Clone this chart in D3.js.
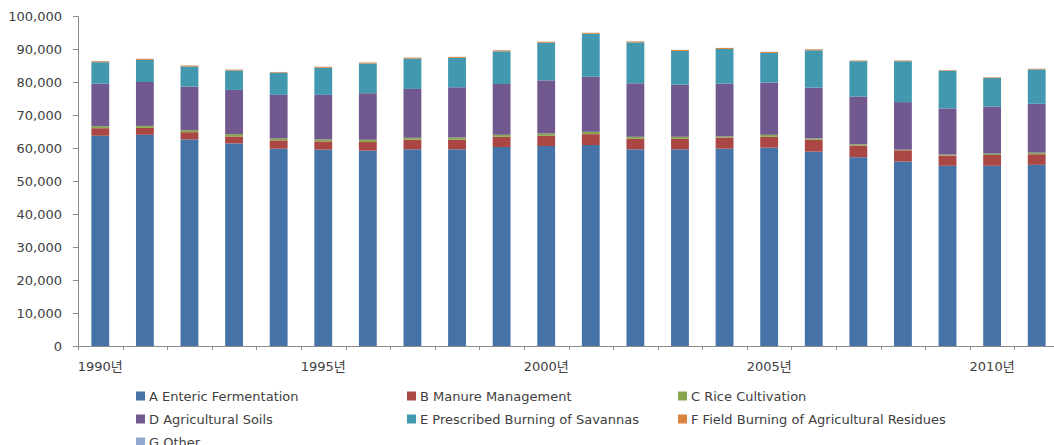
<!DOCTYPE html>
<html>
<head>
<meta charset="utf-8">
<script src="https://cdn.jsdelivr.net/npm/d3@7"></script>
<style>
  body { margin: 0; background: #fff; }
  text { font-family: "DejaVu Sans", "Noto Sans CJK KR", sans-serif; fill: #404040; }
</style>
</head>
<body>
<div id="chart"></div>
<script>
// years on the x axis
var years = d3.range(1990, 2012);
var yearLabels = ["1990년", "1995년", "2000년", "2005년", "2010년"];
var yTicks = [0, 10000, 20000, 30000, 40000, 50000, 60000, 70000, 80000, 90000, 100000];

// series values (Gg)
var enteric   = [63700, 64000, 62600, 61400, 59800, 59500, 59200, 59600, 59600, 60300, 60600, 60900, 59600, 59600, 59800, 60100, 58900, 57200, 55900, 54600, 54600, 54900];
var manure    = [2300, 2100, 2200, 2100, 2500, 2500, 2600, 2900, 2900, 3100, 3100, 3300, 3200, 3200, 3300, 3300, 3600, 3500, 3400, 3100, 3300, 3200];
var rice      = [600, 600, 600, 700, 600, 600, 700, 600, 700, 600, 700, 700, 600, 600, 400, 600, 400, 400, 200, 300, 400, 500];
var soils     = [12900, 13300, 13200, 13400, 13200, 13500, 14100, 14800, 15200, 15400, 16100, 16700, 16200, 15800, 16000, 15800, 15400, 14500, 14400, 14000, 14200, 14800];
var savannas  = [6500, 6700, 6100, 5900, 6700, 8200, 9000, 9200, 8900, 9900, 11400, 13000, 12400, 10200, 10500, 9000, 11300, 10700, 12400, 11400, 8700, 10400];
var residues  = [300, 300, 300, 250, 200, 300, 300, 300, 300, 300, 300, 300, 300, 300, 300, 300, 300, 200, 200, 200, 200, 200];
var other     = [40, 40, 40, 40, 40, 40, 40, 40, 40, 40, 40, 40, 40, 40, 40, 40, 40, 40, 40, 40, 40, 40];

var seriesNames = ["A Enteric Fermentation", "B Manure Management", "C Rice Cultivation",
                   "D Agricultural Soils", "E Prescribed Burning of Savannas",
                   "F Field Burning of Agricultural Residues", "G Other"];
var seriesValues = [enteric, manure, rice, soils, savannas, residues, other];
var colors = ["#4572A7", "#AA4643", "#89A54E", "#71588F", "#4198AF", "#DB843D", "#93A9CF"];

var width = 1054, height = 445;
var plotLeft = 78, plotRight = 1059, plotTop = 16, plotBottom = 346;

var svg = d3.select("#chart").append("svg")
    .attr("width", width)
    .attr("height", height);

// build rows for the stack
var rows = years.map(function(y, i) {
    var r = { year: y };
    seriesNames.forEach(function(n, k) { r[n] = seriesValues[k][i]; });
    return r;
});
var stacked = d3.stack().keys(seriesNames)(rows);

var x = d3.scaleBand()
    .domain(years)
    .range([plotLeft, plotRight])
    .paddingInner(0.6)
    .paddingOuter(0.3);

var y = d3.scaleLinear()
    .domain([0, 100000])
    .range([plotBottom, plotTop]);

// bars
svg.append("g").selectAll("g")
    .data(stacked)
    .enter().append("g")
    .attr("fill", function(d, i) { return colors[i]; })
    .selectAll("rect")
    .data(function(d) { return d; })
    .enter().append("rect")
    .attr("x", function(d) { return x(d.data.year); })
    .attr("y", function(d) { return y(d[1]); })
    .attr("width", x.bandwidth())
    .attr("height", function(d) { return y(d[0]) - y(d[1]); });

// y axis
var yAxis = svg.append("g")
    .attr("transform", "translate(" + plotLeft + ",0)")
    .call(d3.axisLeft(y).tickValues(yTicks).tickSize(5).tickPadding(11)
        .tickFormat(d3.format(",")));
yAxis.select(".domain").attr("stroke", "#8c8c8c");
yAxis.selectAll(".tick line").attr("stroke", "#8c8c8c");
yAxis.selectAll("text").style("font-size", "13px").attr("fill", "#404040");

// x axis: ticks between categories, labels every five years
var step = x.step();
var xg = svg.append("g");
xg.append("line")
    .attr("x1", plotLeft).attr("x2", plotRight)
    .attr("y1", plotBottom + 0.5).attr("y2", plotBottom + 0.5)
    .attr("stroke", "#8c8c8c");
xg.selectAll("line.tk")
    .data(d3.range(years.length + 1))
    .enter().append("line")
    .attr("class", "tk")
    .attr("x1", function(i) { return Math.round(plotLeft + i * step) + 0.5; })
    .attr("x2", function(i) { return Math.round(plotLeft + i * step) + 0.5; })
    .attr("y1", plotBottom).attr("y2", plotBottom + 4)
    .attr("stroke", "#8c8c8c");
xg.selectAll("text")
    .data(yearLabels)
    .enter().append("text")
    .attr("x", function(d) { return x(+d.slice(0, 4)) + x.bandwidth() / 2; })
    .attr("y", 371)
    .attr("text-anchor", "middle")
    .style("font-size", "13px")
    .text(function(d) { return d; });

// legend, three columns
var legend = svg.append("g");
var colX = [136, 407, 678], rowY = [396, 419, 442];
var item = legend.selectAll("g")
    .data(seriesNames)
    .enter().append("g")
    .attr("transform", function(d, i) {
        return "translate(" + colX[i % 3] + "," + rowY[Math.floor(i / 3)] + ")";
    });
item.append("rect")
    .attr("x", 0).attr("y", -4.5)
    .attr("width", 9).attr("height", 9)
    .attr("fill", function(d, i) { return colors[i]; });
item.append("text")
    .attr("x", 13).attr("y", 5)
    .style("font-size", "13px")
    .text(function(d) { return d; });
</script>
</body>
</html>
